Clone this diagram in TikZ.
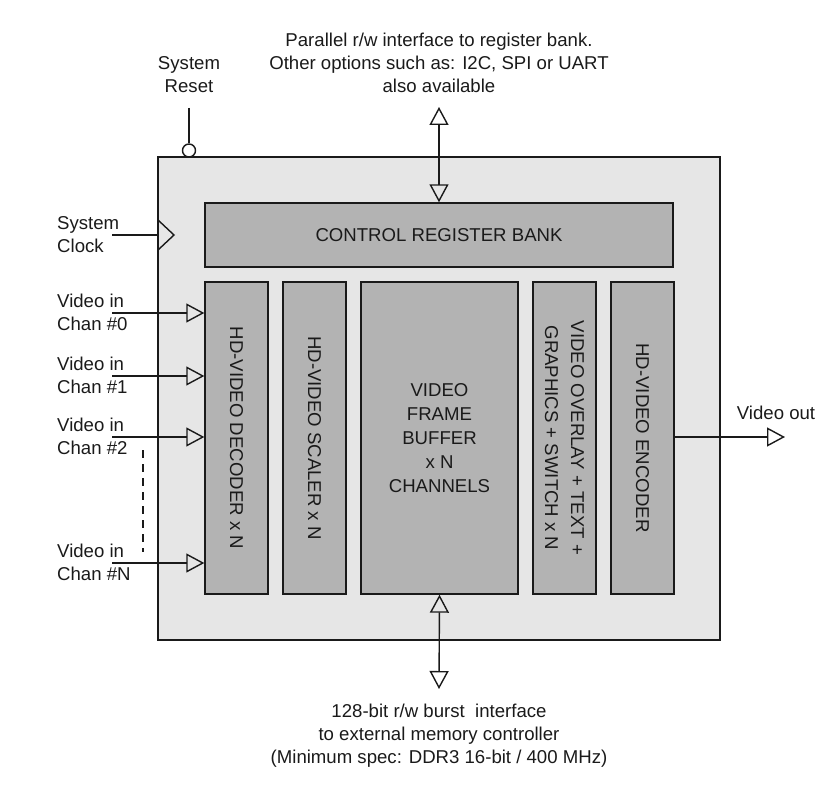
\documentclass[tikz,border=0pt]{standalone}
\usepackage{fontspec}
\setmainfont{Liberation Sans}
\usetikzlibrary{arrows.meta}
\definecolor{outerfill}{HTML}{E6E6E6}
\definecolor{blockfill}{HTML}{B3B3B3}
\definecolor{ink}{HTML}{1A1A1A}
\begin{document}
\begin{tikzpicture}[x=1pt,y=-1pt,
  txt/.style={font=\fontsize{18.6}{23}\selectfont, align=center, inner sep=0pt, text=ink},
  ltxt/.style={font=\fontsize{18.6}{23}\selectfont, align=left, inner sep=0pt, anchor=west, text=ink},
  block/.style={draw=ink, line width=1.4pt, fill=blockfill, inner sep=0pt, font=\fontsize{18.6}{24}\selectfont, align=center, text=ink},
  wire/.style={draw=ink, line width=1.4pt},
  tipo/.style={-{Triangle[open,length=18pt,width=19pt,line width=1.4pt]}},
  tipb/.style={{Triangle[open,length=18pt,width=19pt,line width=1.4pt]}-{Triangle[open,length=18pt,width=19pt,line width=1.4pt]}}
]
\useasboundingbox (0,0) rectangle (840,789);

% outer box
\node[draw=ink, line width=1.4pt, fill=outerfill, minimum width=562pt, minimum height=483pt, inner sep=0pt] (outer) at (439,398.5) {};

% blocks
\node[block, minimum width=468pt, minimum height=64pt] (crb) at (439,235) {CONTROL REGISTER BANK};
\node[block, minimum width=63pt, minimum height=312pt] (dec) at (236.5,438) {};
\node[txt, rotate=-90] at (dec.center) {HD-VIDEO DECODER x N};
\node[block, minimum width=63pt, minimum height=312pt] (scl) at (314.5,438) {};
\node[txt, rotate=-90] at (scl.center) {HD-VIDEO SCALER x N};
\node[block, minimum width=157pt, minimum height=312pt] (vfb) at (439.5,438) {};
\node[txt, font=\fontsize{18.6}{24}\selectfont] at (vfb.center) {VIDEO\\FRAME\\BUFFER\\x N\\CHANNELS};
\node[block, minimum width=63pt, minimum height=312pt] (ovl) at (564.5,438) {};
\node[txt, rotate=-90, font=\fontsize{18.6}{26}\selectfont] at (ovl.center) {VIDEO OVERLAY + TEXT +\\GRAPHICS + SWITCH x N};
\node[block, minimum width=63pt, minimum height=312pt] (enc) at (642.5,438) {};
\node[txt, rotate=-90] at (enc.center) {HD-VIDEO ENCODER};

% system reset
\node[draw=ink, line width=1.4pt, fill=white, circle, minimum size=13pt, inner sep=0pt] (rst) at (189,150.5) {};
\coordinate (rsttop) at (189,108);
\draw[wire] (rsttop) -- (rst.north);
\node[txt] (rstlbl) at (189,74.5) {System\\Reset};

% system clock
\coordinate (clkin) at (112,235);
\draw[wire] (clkin) -- (outer.west |- clkin);
\draw[wire, line join=miter] (158,220) -- (174,235) -- (158,250);
\node[ltxt] (clklbl) at (57,234.5) {System\\Clock};

% video inputs
\foreach \y/\n in {313/0,376/1,437/2,563/N}{
  \coordinate (in\n) at (112,\y);
  \draw[wire, tipo] (in\n) -- (dec.west |- in\n);
  \node[ltxt] (lbl\n) at (57,\y-0.5) {Video in\\Chan \#\n};
}
\coordinate (dash1) at (143,450);
\coordinate (dash2) at (143,552);
\draw[ink, line width=1.4pt, dash pattern=on 8pt off 6pt] (dash1) -- (dash2);

% top interface
\coordinate (topend) at (439,107);
\draw[wire, tipb] (topend) -- (crb.north);
\node[txt] (toplbl) at (439,63) {Parallel r/w interface to register bank.\\Other options such as: I2C, SPI or UART\\also available};

% bottom interface
\coordinate (botend) at (439,689);
\draw[wire, tipb] (vfb.south) -- (botend);
\node[txt] (botlbl) at (439,736) {128-bit r/w burst\ \ interface\\to external memory controller\\(Minimum spec: DDR3 16-bit / 400 MHz)};

% video out
\coordinate (vout) at (785,437);
\draw[wire, tipo] (enc.east |- vout) -- (vout);
\node[txt] (voutlbl) at (776,413) {Video out};
\end{tikzpicture}
\end{document}
